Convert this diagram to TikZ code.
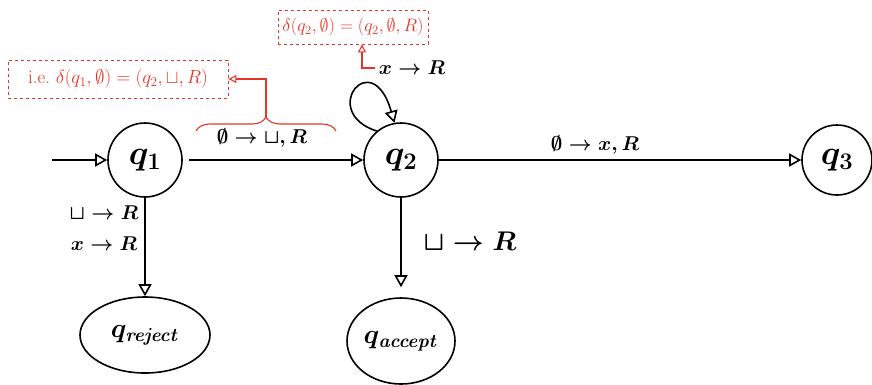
\RequirePackage{fix-cm}
\documentclass[tikz,border=0pt]{standalone}
\usepackage{amssymb}
\usetikzlibrary{arrows.meta,shapes.geometric,decorations.pathreplacing}
\definecolor{annot}{RGB}{232,52,40}
\begin{document}
\begin{tikzpicture}[x=1pt,y=-1pt,
  state/.style={draw,circle,line width=1.6pt,minimum size=74pt,inner sep=0pt,font=\fontsize{34}{34}\selectfont\boldmath},
  final/.style={draw,ellipse,line width=1.6pt,inner sep=0pt,font=\fontsize{27}{27}\selectfont\boldmath},
  trans/.style={line width=1.6pt,-{Triangle[open,length=12pt,width=13pt,line width=1.6pt]}},
  lbl/.style={font=\fontsize{20}{20}\selectfont\boldmath},
  note/.style={draw=annot,dashed,line width=0.8pt,text=annot,inner sep=2pt,font=\fontsize{18}{18}\selectfont},
  rline/.style={draw=annot,line width=1.1pt},
  rarrow/.style={rline,-{Triangle[open,length=8pt,width=8pt,line width=1.1pt]}}]
\useasboundingbox (0,0) rectangle (872,384);

\node[state] (q1) at (145,160) {$q_1$};
\node[state] (q2) at (401,160) {$q_2$};
\node[state,minimum size=70pt] (q3) at (837,160) {$q_3$};
\node[final,minimum width=130pt,minimum height=76pt] (rej) at (145,335) {$q_{\mathit{reject}}$};
\node[final,minimum width=108pt,minimum height=86pt] (acc) at (401,341) {$q_{\mathit{accept}}$};
\coordinate (start) at (52,160);

\draw[trans] (start) -- (q1);
\draw[trans,shorten <=6pt] (q1) -- (q2);
\draw[trans] (q2) -- (q3);
\draw[trans] (q1) -- (rej);
\draw[trans,shorten >=10pt] (q2) -- (acc);
\draw[trans] (q2.130) .. controls (318,112) and (372,44) .. (q2.100);

\node[lbl] (l12) at (262,138) {$\emptyset \rightarrow \sqcup, R$};
\node[lbl] (l23) at (595,145) {$\emptyset \rightarrow x, R$};
\node[lbl] (lr1) at (104,213) {$\sqcup \rightarrow R$};
\node[lbl] (lr2) at (104,244) {$x \rightarrow R$};
\node[lbl,font=\fontsize{27}{27}\selectfont\boldmath] (la) at (470,241) {$\sqcup \rightarrow R$};
\node[lbl] (ll) at (412,68) {$x \rightarrow R$};

\node[note,minimum width=220pt,minimum height=38pt,font=\fontsize{19}{19}\selectfont] (n1) at (118,79) {i.e.\ $\delta(q_1,\emptyset)=(q_2,\sqcup,R)$};
\node[note,minimum width=150pt,minimum height=34pt] (n2) at (353,27) {$\delta(q_2,\emptyset)=(q_2,\emptyset,R)$};

\coordinate (bl) at (196,131);
\coordinate (br) at (336,131);
\draw[rline,decorate,decoration={brace,amplitude=14pt}] (bl) -- (br);
\coordinate (tip) at (266,117);
\draw[rarrow] (tip) |- (n1.east);
\coordinate (lstart) at (375,68);
\draw[rarrow] (lstart) -| (n2.south -| 362,0);
\end{tikzpicture}
\end{document}
